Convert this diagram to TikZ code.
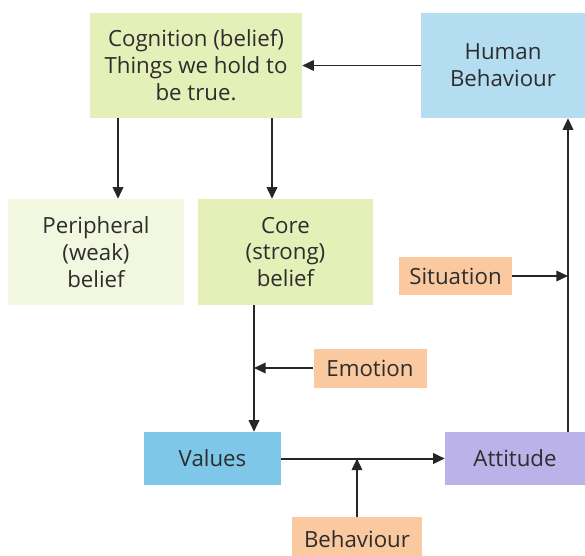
\documentclass[tikz,border=0pt]{standalone}
\usepackage{fontspec}
\setmainfont{Open Sans}
\usepackage{tikz}
\usetikzlibrary{arrows.meta}
\definecolor{beliefgreen}{RGB}{228, 240, 184}
\definecolor{weakgreen}{RGB}{242, 247, 224}
\definecolor{humanblue}{RGB}{181, 221, 241}
\definecolor{valueblue}{RGB}{126, 199, 232}
\definecolor{attlilac}{RGB}{186, 178, 232}
\definecolor{factorpeach}{RGB}{250, 201, 160}
\definecolor{inktext}{RGB}{45, 45, 45}
\tikzset{
  box/.style={inner sep=0pt, align=center, text=inktext, font=\fontsize{19}{23}\selectfont},
  factor/.style={box, fill=factorpeach},
  link/.style={-{Triangle[length=10pt,width=9pt]}, line width=1.7pt, draw=black!85}
}

\begin{document}
\begin{tikzpicture}[x=0.03cm, y=-0.03cm]
    \useasboundingbox[fill=white] (0,0) rectangle (585,555);

    % Belief boxes
    \node[box, fill=beliefgreen, minimum width=212*0.03cm, minimum height=105*0.03cm] (cog) at (196,65.5) {Cognition (belief)\\Things we hold to\\be true.};
    \node[box, fill=humanblue, minimum width=164*0.03cm, minimum height=105*0.03cm] (hb) at (503,65.5) {Human\\Behaviour};
    \node[box, fill=weakgreen, minimum width=176*0.03cm, minimum height=106*0.03cm] (per) at (96,252) {Peripheral\\(weak)\\belief};
    \node[box, fill=beliefgreen, minimum width=175*0.03cm, minimum height=106*0.03cm] (core) at (285.5,252) {Core\\(strong)\\belief};

    % Outcome boxes
    \node[box, fill=valueblue, minimum width=137*0.03cm, minimum height=53*0.03cm] (val) at (212.5,458.5) {Values};
    \node[box, fill=attlilac, minimum width=140*0.03cm, minimum height=53*0.03cm] (att) at (515,458.5) {Attitude};

    % Influences
    \node[factor, minimum width=113*0.03cm, minimum height=38*0.03cm] (sit) at (455.5,276) {Situation};
    \node[factor, minimum width=113*0.03cm, minimum height=39*0.03cm] (emo) at (370,368) {Emotion};
    \node[factor, minimum width=130*0.03cm, minimum height=44*0.03cm] (beh) at (357,539) {Behaviour};

    % Arrows
    \coordinate (perx) at (118,0);
    \coordinate (corex) at (272,0);
    \coordinate (valx) at (254,0);
    \coordinate (attx) at (568,0);

    \draw[link] (hb) -- (cog);
    \draw[link] (cog.south -| perx) -- (per.north -| perx);
    \draw[link] (cog.south -| corex) -- (core.north -| corex);
    \draw[link] (core.south -| valx) -- (val.north -| valx);
    \draw[link] (emo.west) -- (emo.west -| valx);
    \draw[link] (val.east) -- (att.west);
    \draw[link] (beh.north) -- (beh.north |- val.east);
    \draw[link] (att.north -| attx) -- (hb.south -| attx);
    \draw[link] (sit.east) -- (sit.east -| attx);
\end{tikzpicture}
\end{document}
